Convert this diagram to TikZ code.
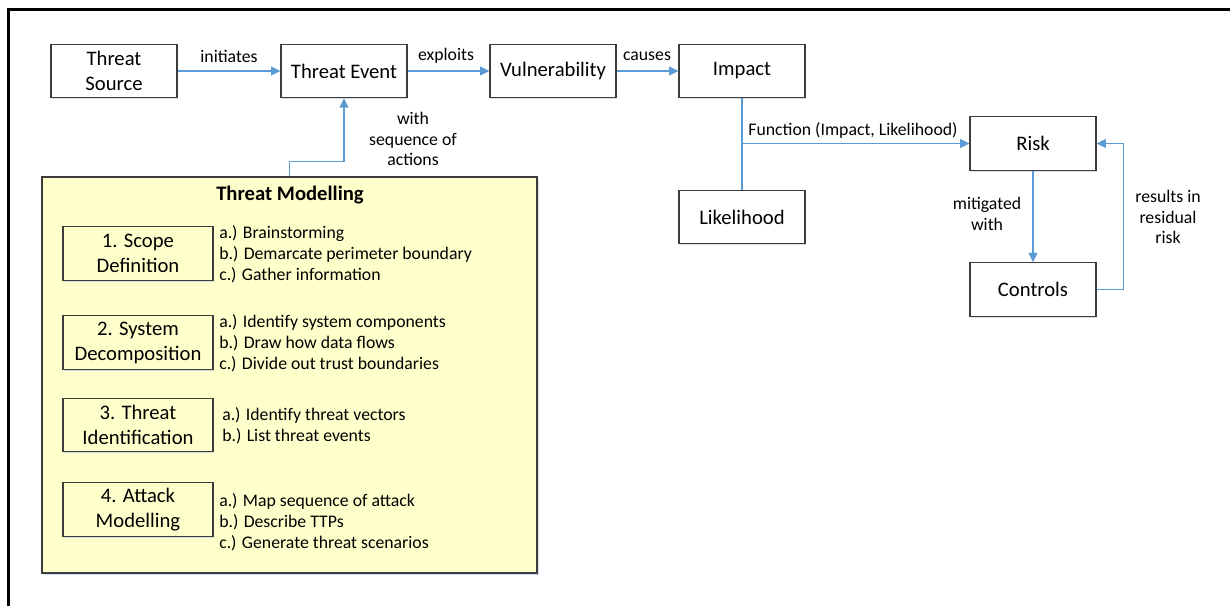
\documentclass[tikz,border=0pt]{standalone}
\usepackage{fontspec}
\setmainfont{Carlito}
\usetikzlibrary{arrows.meta,shadows,calc}
\definecolor{arrblue}{RGB}{91,155,213}
\definecolor{tmfill}{RGB}{255,255,204}
\definecolor{boxline}{RGB}{60,60,60}
\definecolor{shadowc}{RGB}{185,200,228}
\begin{document}
\begin{tikzpicture}[x=0.75pt,y=-0.75pt,
  mbox/.style={draw=boxline, line width=0.8pt, fill=white, minimum width=94.5pt, minimum height=40pt, inner sep=0pt, align=center,
    font=\fontsize{15.5}{18.75}\selectfont,
    drop shadow={shadow xshift=1.1pt, shadow yshift=-1.3pt, fill=shadowc, opacity=0.6}},
  ibox/.style={mbox, fill=tmfill, minimum width=112.5pt},
  tmbox/.style={draw=boxline, line width=0.9pt, fill=tmfill, minimum width=371.25pt, minimum height=297pt, inner sep=0pt,
    drop shadow={shadow xshift=1.3pt, shadow yshift=-1.5pt, fill=shadowc, opacity=0.6}},
  lbl/.style={font=\fontsize{13.3}{15.4}\selectfont, align=center, inner sep=0pt},
  items/.style={font=\fontsize{13.3}{15.75}\selectfont, align=left, anchor=west, inner sep=0pt},
  conn/.style={draw=arrblue, line width=1.1pt},
  arr/.style={conn, -{Triangle[length=7pt,width=6.5pt]}}
]
\useasboundingbox (0,0) rectangle (1230,606);
% frame (top and left)
\draw[line width=2pt] (8.3,606) -- (8.3,9.3) -- (1230,9.3);

% main chain
\node[mbox] (ts) at (114,71) {Threat\\Source};
\node[mbox] (te) at (344,71) {Threat Event};
\node[mbox] (vu) at (553,71) {Vulnerability};
\node[mbox] (im) at (742,71) {Impact};
\node[mbox] (li) at (742,217) {Likelihood};
\node[mbox] (ri) at (1033,143.5) {Risk};
\node[mbox] (co) at (1033,289.5) {Controls};

% threat modelling panel
\node[tmbox] (tm) at (289.5,375) {};
\node[font=\bfseries\fontsize{15.5}{18}\selectfont, inner sep=0pt] (title) at (290,195) {Threat Modelling};
\node[ibox] (s1) at (138,253.5) {1. Scope\\Definition};
\node[ibox] (s2) at (138,342.5) {2. System\\Decomposition};
\node[ibox] (s3) at (138,425) {3. Threat\\Identification};
\node[ibox] (s4) at (138,509.5) {4. Attack\\Modelling};
\node[items] (i1) at (219,254) {a.) Brainstorming\\b.) Demarcate perimeter boundary\\c.) Gather information};
\node[items] (i2) at (219,343) {a.) Identify system components\\b.) Draw how data flows\\c.) Divide out trust boundaries};
\node[items] (i3) at (222,426) {a.) Identify threat vectors\\b.) List threat events};
\node[items] (i4) at (219,522) {a.) Map sequence of attack\\b.) Describe TTPs\\c.) Generate threat scenarios};

% labels
\node[lbl] (l1) at (229,56) {initiates};
\node[lbl] (l2) at (446,56) {exploits};
\node[lbl] (l3) at (647,56) {causes};
\node[lbl] (l4) at (413,139) {with\\sequence of\\actions};
\node[lbl] (l5) at (853,130) {Function (Impact, Likelihood)};
\node[lbl] (l6) at (987,214) {mitigated\\with};
\node[lbl] (l7) at (1168,217) {results in\\residual\\risk};

% connectors
\draw[arr] (ts) -- (te);
\draw[arr] (te) -- (vu);
\draw[arr] (vu) -- (im);
\draw[arr] (tm.north) -- ++(0,-15) -| (te.south);
\draw[conn] (im) -- (li);
\coordinate (fj) at (742,143.5);
\draw[arr] (fj) -- (ri.west);
\draw[arr] (ri) -- (co);
\draw[arr] (co.east) -- ++(27,0) |- (ri.east);
\end{tikzpicture}
\end{document}
